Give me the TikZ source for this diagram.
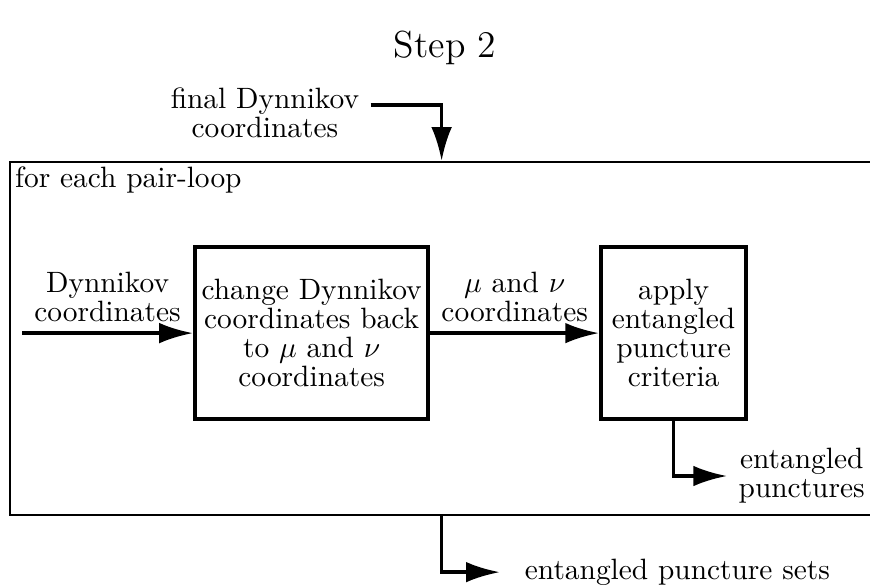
\documentclass[tikz,border=0pt]{standalone}
\usepackage{amsmath}
\usepackage{tikz}
\usetikzlibrary{arrows.meta}
\usetikzlibrary{positioning}

\begin{document}
\begin{tikzpicture}[x=1pt,y=1pt,>={Latex[length=11.5pt,width=7pt]},line width=1.2pt,
  blk/.style={draw,line width=1.4pt,align=center,minimum height=58.5pt,inner sep=2pt,font=\fontsize{10}{9.8}\selectfont},
  lbl/.style={align=center,font=\fontsize{10}{9.8}\selectfont}]
%\draw[help lines] (0,0) grid (296,200);
\useasboundingbox (0,0) rectangle (295.9,199.7);
\node[font=\fontsize{12.8}{15}\selectfont] (ttl) at (151.4,183.4) {Step 2};
\node[draw,line width=0.7pt,minimum width=293.6pt,minimum height=120.1pt,inner sep=0pt] (loop) at (150.2,84.55) {};
\node[anchor=north west,inner sep=1.5pt] (lp) at (loop.north west) {for each pair-loop};
\node[blk,minimum width=79.3pt] (chg) at (106,86.4) {change Dynnikov\\coordinates back\\to $\mu$ and $\nu$\\coordinates};
\node[blk,minimum width=49.3pt,right=57.4pt of chg] (app) {apply\\entangled\\puncture\\criteria};
\coordinate (din) at (7.5,86.4);
\draw[->] (din) -- node[lbl,above] {Dynnikov\\coordinates} (chg);
\draw[->] (chg) -- node[lbl,above] {$\mu$ and $\nu$\\coordinates} (app);
\node[lbl] (fin) at (90.1,161.2) {final Dynnikov\\coordinates};
\draw[->] ([yshift=2.8pt]fin.east) -| (loop.north);
\node[lbl,anchor=west] (ent) at (247.3,37.8) {entangled\\punctures};
\draw[->] (app.south) |- (ent.west);
\node[anchor=west] (sets) at (174.6,5.1) {entangled puncture sets};
\draw[->] (loop.south) |- ([xshift=-4.6pt]sets.west);
\end{tikzpicture}
\end{document}
